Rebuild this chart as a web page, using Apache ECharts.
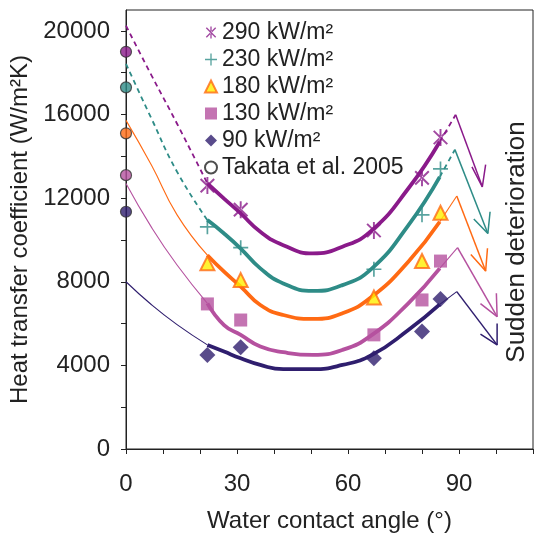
<!DOCTYPE html>
<html lang="en">
<head>
    <meta charset="UTF-8">
    <script src="https://cdn.jsdelivr.net/npm/echarts@6.0.0/dist/echarts.min.js"></script>
    <title>Heat transfer coefficient</title>
    <style>
        body { margin: 0; background: #fff; }
        #chart { width: 535px; height: 538px; }
    </style>
</head>
<body>
<div id="chart"></div>
<script type="text/javascript">

    // heat flux groups (top to bottom)
    var fluxNames = ['290 kW/m²', '230 kW/m²', '180 kW/m²', '130 kW/m²', '90 kW/m²'];
    var colors = ['#8a1a8a', '#2e8c87', '#ff6a13', '#b5519f', '#2f1e6e'];

    // measured points
    var angles = [22, 31, 67, 80, 85];
    var meas290 = [12600, 11450, 10450, 12970, 14900];
    var meas230 = [10630, 9630, 8600, 11200, 13400];
    var meas180 = [8880, 8080, 7250, 8990, 11300];
    var meas130 = [6940, 6170, 5460, 7130, 8990];
    var meas90 = [4500, 4870, 4340, 5620, 7170];

    // Takata et al. 2005 at 0 deg
    var takata = [19000, 17300, 15100, 13100, 11350];

    // fitted curve, thick part (22..85 deg)
    var fitAngles = [22, 26.5, 31, 36.3, 42.5, 50.5, 58.5, 66.5, 76.3, 84.8];
    var fit290 = [12700, 11980, 11270, 10390, 9750, 9355, 9675, 10470, 12460, 14700];
    var fit230 = [10950, 10310, 9590, 8640, 7920, 7560, 7840, 8640, 10700, 13020];
    var fit180 = [9270, 8480, 7770, 6890, 6410, 6220, 6490, 7290, 8960, 10870];
    var fit130 = [6970, 5930, 5460, 4900, 4630, 4500, 4740, 5460, 6970, 8640];
    var fit90 = [4980, 4660, 4340, 4020, 3820, 3820, 4020, 4500, 5690, 6920];

    // extrapolation towards 0 deg
    var leftAngles = [0, 6.9, 13.8, 22];
    var left290 = [20250, 17870, 15560, 12700];
    var left230 = [18420, 15800, 13260, 10950];
    var left180 = [15720, 13570, 11200, 9270];
    var left130 = [12700, 10600, 8800, 6970];
    var left90 = [8000, 6900, 5950, 4980];

    // extrapolation towards the peak, then sudden drop
    var peakAngle = [89.1, 88.9, 89.4, 89.6, 89.4];
    var peakValue = [15990, 14320, 12100, 9630, 7530];
    var tipAngle = [96.3, 97.8, 97.2, 100.3, 100.3];
    var tipValue = [12540, 10310, 8510, 6330, 4980];
    var wingAAngle = [93.5, 94.0, 93.2, 95.8, 95.8];
    var wingAValue = [13500, 11000, 9300, 6950, 5500];
    var wingBAngle = [97.2, 98.4, 97.7, 100.1, 100.3];
    var wingBValue = [13600, 11350, 9600, 7450, 6000];

    var xTicks = [0, 10, 20, 30, 40, 50, 60, 70, 80, 90, 100, 110];
    var xLabels = [0, 30, 60, 90];
    var yTicks = [0, 2000, 4000, 6000, 8000, 10000, 12000, 14000, 16000, 18000, 20000];
    var yLabels = [0, 4000, 8000, 12000, 16000, 20000];

    var measured = [meas290, meas230, meas180, meas130, meas90];
    var fits = [fit290, fit230, fit180, fit130, fit90];
    var lefts = [left290, left230, left180, left130, left90];

    var asterisk = 'path://M-1.1,-10h2.2v20h-2.2z M-7,-8.6L8.6,7L7,8.6L-8.6,-7z M-7,8.6L8.6,-7L7,-8.6L-8.6,7z';
    var plus = 'path://M-0.9,-8h1.8v7.1h7.1v1.8h-7.1v7.1h-1.8v-7.1h-7.1v-1.8h7.1z';

    function pairs(xs, ys) {
        return xs.map(function (x, i) { return [x, ys[i]]; });
    }

    var series = [];
    for (var i = 0; i < 5; i++) {
        var dashed = i < 2;
        var thin = {color: colors[i], width: dashed ? 1.8 : 1.1, type: dashed ? [5, 4] : 'solid'};
        series.push({
            type: 'line', data: pairs(leftAngles, lefts[i]), smooth: true,
            showSymbol: false, silent: true, lineStyle: thin, z: 2
        });
        series.push({
            type: 'line', data: pairs(fitAngles, fits[i]), smooth: true,
            showSymbol: false, silent: true, z: 3,
            lineStyle: {color: colors[i], width: 3.8}
        });
        series.push({
            type: 'line', data: [[fitAngles[fitAngles.length - 1], fits[i][fits[i].length - 1]], [peakAngle[i], peakValue[i]]],
            showSymbol: false, silent: true, lineStyle: thin, z: 2
        });
        series.push({
            type: 'line', data: [[peakAngle[i], peakValue[i]], [tipAngle[i], tipValue[i]]],
            showSymbol: false, silent: true, z: 2,
            lineStyle: {color: colors[i], width: 1.5}
        });
        series.push({
            type: 'line', data: [[wingAAngle[i], wingAValue[i]], [tipAngle[i], tipValue[i]], [wingBAngle[i], wingBValue[i]]],
            showSymbol: false, silent: true, z: 2,
            lineStyle: {color: colors[i], width: 1.5}
        });
    }

    var markerStyles = [
        {symbol: asterisk, symbolSize: [15, 17], itemStyle: {color: colors[0]}},
        {symbol: plus, symbolSize: 15, itemStyle: {color: colors[1]}},
        {symbol: 'triangle', symbolSize: 14, itemStyle: {color: '#ffef00', borderColor: colors[2], borderWidth: 2}},
        {symbol: 'rect', symbolSize: 13, itemStyle: {color: colors[3]}},
        {symbol: 'diamond', symbolSize: 16, itemStyle: {color: colors[4]}}
    ];
    for (var k = 0; k < 5; k++) {
        series.push({
            name: fluxNames[k], type: 'scatter', z: 5,
            symbol: markerStyles[k].symbol, symbolSize: markerStyles[k].symbolSize,
            itemStyle: markerStyles[k].itemStyle,
            data: pairs(angles, measured[k])
        });
    }

    // legend only entry for the open circle
    series.push({
        name: 'Takata et al. 2005', type: 'scatter', data: [],
        symbol: 'circle', symbolSize: 9,
        itemStyle: {color: '#fff', borderColor: '#222', borderWidth: 1.5}
    });
    series.push({
        name: 'takataPts', type: 'scatter', z: 6, clip: false, symbolSize: 11,
        data: takata.map(function (v, i) {
            return {value: [0, v], itemStyle: {color: colors[i], borderColor: '#333', borderWidth: 1.2}};
        })
    });

    var chart = echarts.init(document.getElementById('chart'), null, {renderer: 'canvas'});
    var option = {
        animation: false,
        textStyle: {fontFamily: 'Liberation Sans, Arial, sans-serif'},
        grid: {left: 124, right: 2, top: 10, bottom: 87, show: true, borderColor: '#222', borderWidth: 1},
        legend: {
            data: fluxNames.concat(['Takata et al. 2005']),
            orient: 'vertical', left: 199, top: 16,
            itemWidth: 12, itemHeight: 12, itemGap: 4,
            textStyle: {fontSize: 23, color: '#222', lineHeight: 23},
            selectedMode: false
        },
        xAxis: {
            type: 'value', min: 0, max: 110,
            name: 'Water contact angle (°)', nameLocation: 'middle', nameGap: 60,
            nameTextStyle: {fontSize: 24, color: '#222'},
            axisLine: {lineStyle: {color: '#222'}},
            axisTick: {customValues: xTicks, length: 5, lineStyle: {color: '#222'}},
            axisLabel: {customValues: xLabels, fontSize: 24, color: '#222', margin: 23},
            splitLine: {show: false}
        },
        yAxis: {
            type: 'value', min: 0, max: 21000,
            name: 'Heat transfer coefficient (W/m²K)', nameLocation: 'middle', nameGap: 94,
            nameTextStyle: {fontSize: 24, color: '#222'},
            axisLine: {lineStyle: {color: '#222'}},
            axisTick: {customValues: yTicks, length: 5, lineStyle: {color: '#222'}},
            axisLabel: {
                customValues: yLabels, fontSize: 24, color: '#222', margin: 16,
                formatter: function (v) { return String(v); }
            },
            splitLine: {show: false}
        },
        graphic: [{
            type: 'text', x: 517, y: 242, rotation: Math.PI / 2,
            style: {
                text: 'Sudden deterioration', fontSize: 26, fill: '#222',
                fontFamily: 'Liberation Sans, Arial, sans-serif',
                align: 'center', verticalAlign: 'middle'
            }
        }],
        series: series
    };
    chart.setOption(option);
</script>
</body>
</html>
